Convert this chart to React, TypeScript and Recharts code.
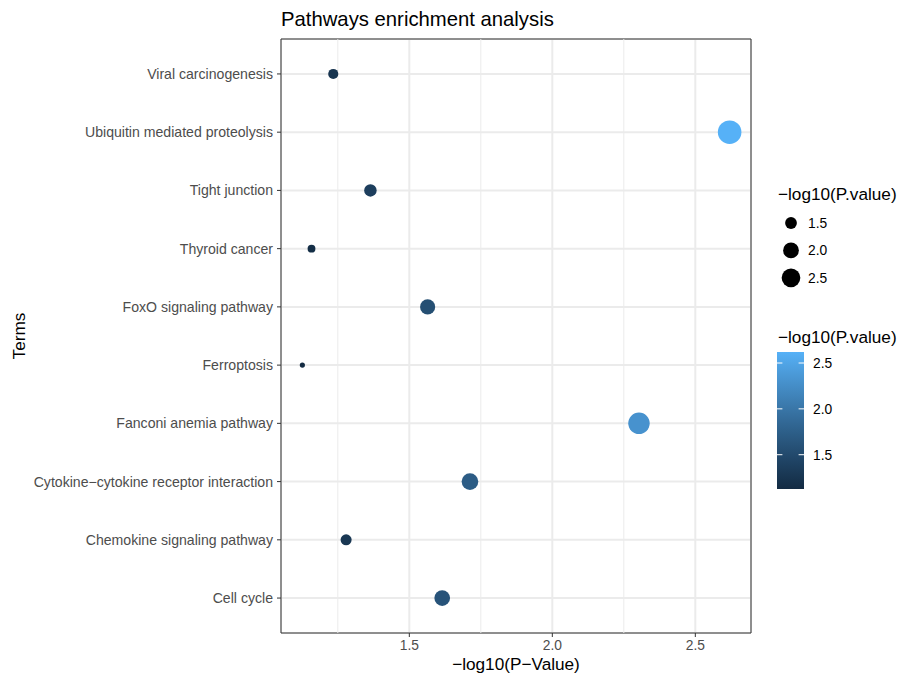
import React from "react";
import {
  ScatterChart,
  Scatter,
  XAxis,
  YAxis,
  CartesianGrid,
  ReferenceLine,
  ReferenceArea,
} from "recharts";

// ---------- data ----------
const terms = [
  "Viral carcinogenesis",
  "Ubiquitin mediated proteolysis",
  "Tight junction",
  "Thyroid cancer",
  "FoxO signaling pathway",
  "Ferroptosis",
  "Fanconi anemia pathway",
  "Cytokine\u2212cytokine receptor interaction",
  "Chemokine signaling pathway",
  "Cell cycle",
];
const negLogP = [1.234, 2.62, 1.364, 1.158, 1.564, 1.126, 2.303, 1.712, 1.279, 1.615];
const xTicks = [1.5, 2.0, 2.5];
const xMinorTicks = [1.25, 1.75, 2.25];
const legendBreaks = [1.5, 2.0, 2.5];

const title = "Pathways enrichment analysis";
const xLabel = "\u2212log10(P\u2212Value)";
const yLabel = "Terms";
const legendTitle = "\u2212log10(P.value)";

// ---------- derived ----------
const vMin = Math.min(...negLogP);
const vMax = Math.max(...negLogP);
const vRange = vMax - vMin;
const xDomain: [number, number] = [vMin - 0.05 * vRange, vMax + 0.05 * vRange];
const n = terms.length;
const yTicks = terms.map((_, i) => i + 1);
const data = terms.map((t, i) => ({ term: t, y: n - i, value: negLogP[i] }));

// colour: ggplot default gradient #132B43 -> #56B1F7, Lab interpolation
const LOW = "#132B43";
const HIGH = "#56B1F7";
function hexToRgb(h: string) {
  return [1, 3, 5].map((k) => parseInt(h.slice(k, k + 2), 16) / 255);
}
function toLin(c: number) {
  return c <= 0.04045 ? c / 12.92 : Math.pow((c + 0.055) / 1.055, 2.4);
}
function fromLin(c: number) {
  return c <= 0.0031308 ? 12.92 * c : 1.055 * Math.pow(c, 1 / 2.4) - 0.055;
}
const WX = 0.95047, WY = 1.0, WZ = 1.08883;
function rgbToLab(rgb: number[]) {
  const [r, g, b] = rgb.map(toLin);
  const X = (0.4124 * r + 0.3576 * g + 0.1805 * b) / WX;
  const Y = (0.2126 * r + 0.7152 * g + 0.0722 * b) / WY;
  const Z = (0.0193 * r + 0.1192 * g + 0.9505 * b) / WZ;
  const f = (t: number) => (t > 0.008856 ? Math.cbrt(t) : 7.787 * t + 16 / 116);
  const fx = f(X), fy = f(Y), fz = f(Z);
  return [116 * fy - 16, 500 * (fx - fy), 200 * (fy - fz)];
}
function labToHex(lab: number[]) {
  const [L, a, bb] = lab;
  const fy = (L + 16) / 116;
  const fx = fy + a / 500;
  const fz = fy - bb / 200;
  const finv = (t: number) => (t * t * t > 0.008856 ? t * t * t : (t - 16 / 116) / 7.787);
  const X = finv(fx) * WX, Y = finv(fy) * WY, Z = finv(fz) * WZ;
  const r = 3.2406 * X - 1.5372 * Y - 0.4986 * Z;
  const g = -0.9689 * X + 1.8758 * Y + 0.0415 * Z;
  const b = 0.0557 * X - 0.204 * Y + 1.057 * Z;
  return (
    "#" +
    [r, g, b]
      .map((c) => Math.round(Math.max(0, Math.min(1, fromLin(c))) * 255).toString(16).padStart(2, "0"))
      .join("")
  );
}
const labLow = rgbToLab(hexToRgb(LOW));
const labHigh = rgbToLab(hexToRgb(HIGH));
function colorAt(t: number) {
  const tt = Math.max(0, Math.min(1, t));
  return labToHex(labLow.map((c, i) => c + (labHigh[i] - c) * tt));
}
const norm = (v: number) => (v - vMin) / vRange;
const colorOf = (v: number) => colorAt(norm(v));
// size: ggplot area scale, range 1..6
const radiusOf = (v: number) => (3.67 * (1 + 5 * Math.sqrt(Math.max(0, norm(v)))) + 1.5) / 2;

const FONT = "'Liberation Sans', Arial, sans-serif";
const TICK_COLOR = "#4D4D4D";

const PointShape = (props: any) => {
  const { cx, cy, payload } = props;
  if (cx == null || cy == null) return null;
  return <circle cx={cx} cy={cy} r={radiusOf(payload.value)} fill={colorOf(payload.value)} />;
};

// colour bar layout
const BAR_X = 777;
const BAR_W = 27;
const BAR_TOP = 352;
const BAR_H = 137;
const barY = (v: number) => BAR_TOP + BAR_H - norm(v) * BAR_H;
const gradStops = Array.from({ length: 11 }, (_, i) => i / 10);

export default function App() {
  return (
    <div
      style={{
        position: "absolute",
        left: 0,
        top: 0,
        width: 902,
        height: 677,
        background: "#fff",
        fontFamily: FONT,
      }}
    >
      <ScatterChart
        width={902}
        height={677}
        margin={{ top: 39, right: 151, bottom: 0, left: 0 }}
        style={{ fontFamily: FONT }}
      >
        <CartesianGrid stroke="#EBEBEB" strokeWidth={2} />
        {xMinorTicks.map((t) => (
          <ReferenceLine key={t} x={t} stroke="#EBEBEB" strokeWidth={1} />
        ))}
        <XAxis
          type="number"
          dataKey="value"
          domain={xDomain}
          ticks={xTicks}
          allowDataOverflow
          height={44}
          axisLine={false}
          tickLine={{ stroke: "#333333", strokeWidth: 1 }}
          tickSize={4}
          tickMargin={3}
          tick={{ fill: TICK_COLOR, fontSize: 13.8, fontFamily: FONT }}
          tickFormatter={(v: number) => v.toFixed(1)}
        />
        <YAxis
          type="number"
          dataKey="y"
          domain={[0.4, n + 0.6]}
          ticks={yTicks}
          allowDataOverflow
          width={281}
          axisLine={false}
          tickLine={{ stroke: "#333333", strokeWidth: 1 }}
          tickSize={4}
          tickMargin={4}
          interval={0}
          tick={{ fill: TICK_COLOR, fontSize: 14.1, fontFamily: FONT }}
          tickFormatter={(v: number) => terms[n - v] ?? ""}
        />
        <Scatter data={data} shape={PointShape} isAnimationActive={false} />
        <ReferenceArea
          x1={xDomain[0]}
          x2={xDomain[1]}
          y1={0.4}
          y2={n + 0.6}
          fill="none"
          fillOpacity={0}
          stroke="#333333"
          strokeWidth={1}
          ifOverflow="visible"
        />
      </ScatterChart>

      <svg
        width={902}
        height={677}
        style={{ position: "absolute", left: 0, top: 0, pointerEvents: "none" }}
        fontFamily={FONT}
      >
        <defs>
          <linearGradient id="cbar" x1="0" y1="1" x2="0" y2="0">
            {gradStops.map((s) => (
              <stop key={s} offset={s} stopColor={colorAt(s)} />
            ))}
          </linearGradient>
        </defs>
        {/* title and axis titles */}
        <text x={281} y={26} fontSize={20.3} fill="#000">
          {title}
        </text>
        <text x={516} y={670} fontSize={17.2} fill="#000" textAnchor="middle">
          {xLabel}
        </text>
        <text
          x={25}
          y={336}
          fontSize={17.2}
          fill="#000"
          textAnchor="middle"
          transform="rotate(-90 25 336)"
        >
          {yLabel}
        </text>

        {/* size legend */}
        <text x={778} y={200} fontSize={17.2} fill="#000">
          {legendTitle}
        </text>
        {legendBreaks.map((b, i) => {
          const cy = 223 + i * 27.4;
          return (
            <g key={b}>
              <circle cx={791} cy={cy} r={radiusOf(b) * 0.82} fill="#000" />
              <text x={808} y={cy + 4.8} fontSize={13.8} fill="#000">
                {b.toFixed(1)}
              </text>
            </g>
          );
        })}

        {/* colour legend */}
        <text x={778} y={343} fontSize={17.2} fill="#000">
          {legendTitle}
        </text>
        <rect x={BAR_X} y={BAR_TOP} width={BAR_W} height={BAR_H} fill="url(#cbar)" />
        {legendBreaks.map((b) => {
          const y = barY(b);
          return (
            <g key={b}>
              <line x1={BAR_X} x2={BAR_X + 5.4} y1={y} y2={y} stroke="#fff" strokeWidth={1} />
              <line
                x1={BAR_X + BAR_W - 5.4}
                x2={BAR_X + BAR_W}
                y1={y}
                y2={y}
                stroke="#fff"
                strokeWidth={1}
              />
              <text x={813} y={y + 4.8} fontSize={13.8} fill="#000">
                {b.toFixed(1)}
              </text>
            </g>
          );
        })}
      </svg>
    </div>
  );
}
